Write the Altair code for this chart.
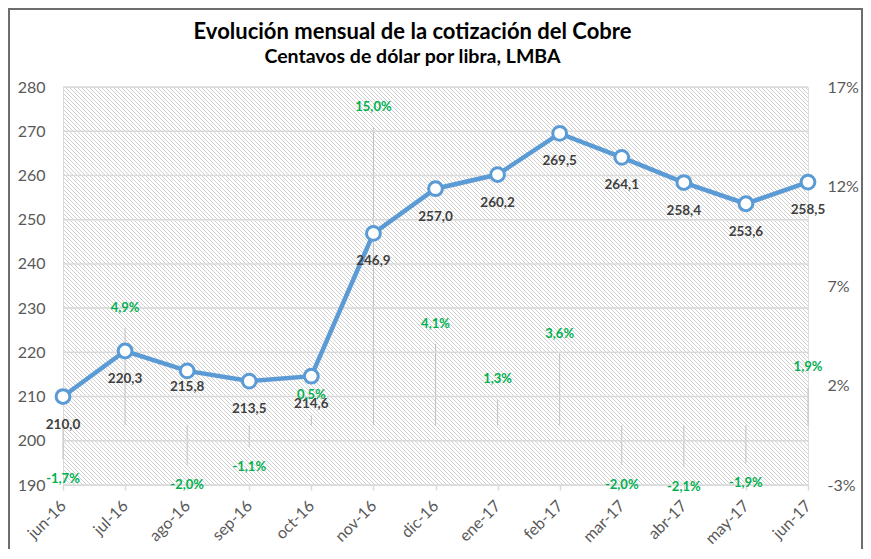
import altair as alt
import pandas as pd

# ---- data ----
meses = ["jun-16", "jul-16", "ago-16", "sep-16", "oct-16", "nov-16", "dic-16",
         "ene-17", "feb-17", "mar-17", "abr-17", "may-17", "jun-17"]
precio = [210.0, 220.3, 215.8, 213.5, 214.6, 246.9, 257.0, 260.2, 269.5, 264.1, 258.4, 253.6, 258.5]
variacion = [-1.7, 4.9, -2.0, -1.1, 0.5, 15.0, 4.1, 1.3, 3.6, -2.0, -2.1, -1.9, 1.9]
ticks_izq = [190, 200, 210, 220, 230, 240, 250, 260, 270, 280]
ticks_der = [-3, 2, 7, 12, 17]

df = pd.DataFrame({"mes": meses, "precio": precio, "var": variacion})
df["precio_txt"] = [f"{v:.1f}".replace(".", ",") for v in precio]
df["var_txt"] = [f"{v:.1f}".replace(".", ",") + "%" for v in variacion]
grid_df = pd.DataFrame({"precio": ticks_izq})

W, H = 745, 398
FONT = "Lato"
GRAY = "#595959"
BLUE = "#5B9BD5"
GREEN = "#00B050"
GRID = "#D9D9D9"

xenc = alt.X(
    "mes:N",
    scale=alt.Scale(type="point", domain=meses, padding=0),
    axis=alt.Axis(title=None, labelAngle=-45, labelAlign="right", labelBaseline="middle",
                  labelFont=FONT, labelFontSize=16, labelColor=GRAY, labelPadding=13,
                  domain=False, ticks=True, tickSize=5, tickColor=GRID, tickWidth=1.5,
                  grid=False),
)

yL = alt.Y(
    "precio:Q",
    scale=alt.Scale(domain=[190, 280], nice=False, zero=False),
    axis=alt.Axis(orient="left", values=ticks_izq, title=None, grid=False, domain=False,
                  ticks=False, labelFont=FONT, labelFontSize=16, labelColor=GRAY,
                  labelPadding=18),
)

yR = alt.Y(
    "var:Q",
    scale=alt.Scale(domain=[-3, 17], nice=False, zero=False),
    axis=alt.Axis(orient="right", values=ticks_der, title=None, grid=False, domain=False,
                  ticks=False, labelFont=FONT, labelFontSize=16, labelColor=GRAY,
                  labelPadding=19, labelExpr="datum.value + '%'"),
)
yR_noaxis = alt.Y("var:Q", scale=alt.Scale(domain=[-3, 17], nice=False, zero=False), axis=None)

# hatched plot background (decorative)
hatch = (
    alt.Chart(alt.sequence(0, 287, as_="k"))
    .transform_calculate(hx=f"datum.k*4 - {H}", hx2="datum.k*4")
    .mark_rule(color="#D0D0D0", strokeWidth=1, clip=True)
    .encode(x=alt.X("hx:Q", scale=None, axis=None), x2="hx2:Q",
            y=alt.value(0), y2=alt.value(H))
)

base = alt.Chart(df)

# secondary-axis drop lines (monthly % change)
drops = base.mark_rule(color="#BFBFBF", strokeWidth=1).encode(x=xenc, y=yR, y2=alt.datum(0))

gridlines = (
    alt.Chart(grid_df)
    .mark_rule(color=GRID, strokeWidth=1.5)
    .encode(y=yL, x=alt.value(0), x2=alt.value(W))
)
line = base.mark_line(color=BLUE, strokeWidth=4.5).encode(x=xenc, y=yL)
points = base.mark_point(shape="circle", filled=True, fill="white", stroke=BLUE,
                         strokeWidth=3, size=190, opacity=1).encode(x=xenc, y=yL)
lab_precio = (
    base.transform_filter("datum.mes != 'ago-16'")
    .mark_text(font=FONT, fontSize=13.5, fontWeight="bold", color="#404040", dy=28)
    .encode(x=xenc, y=yL, text="precio_txt:N")
)
lab_precio2 = (
    base.transform_filter("datum.mes == 'ago-16'")
    .mark_text(font=FONT, fontSize=13.5, fontWeight="bold", color="#404040", dy=16)
    .encode(x=xenc, y=yL, text="precio_txt:N")
)
left = alt.layer(gridlines, line, points, lab_precio, lab_precio2)

lab_pos = (
    base.transform_filter("datum.var >= 0")
    .mark_text(font=FONT, fontSize=13, fontWeight="bold", color=GREEN, dy=-20)
    .encode(x=xenc, y=yR_noaxis, text="var_txt:N")
)
lab_neg = (
    base.transform_filter("datum.var < 0")
    .mark_text(font=FONT, fontSize=13, fontWeight="bold", color=GREEN, dy=20)
    .encode(x=xenc, y=yR_noaxis, text="var_txt:N")
)
pct_labels = alt.layer(lab_pos, lab_neg)

frame = (
    alt.Chart(pd.DataFrame({"a": [0]}))
    .mark_rect(fill="white", fillOpacity=0, stroke="#6D6D6D", strokeWidth=2)
    .encode(x=alt.value(-54), x2=alt.value(799), y=alt.value(-78), y2=alt.value(600))
)

chart = (
    alt.layer(hatch, drops, left, pct_labels, frame)
    .resolve_scale(y="independent")
    .properties(
        width=W, height=H,
        autosize=alt.AutoSizeParams(type="none"),
        padding={"left": 55, "top": 79, "right": 55, "bottom": 64},
        title=alt.TitleParams(
            text="Evolución mensual de la cotización del Cobre",
            subtitle="Centavos de dólar por libra, LMBA",
            font=FONT, fontSize=22, fontWeight="bold", color="black",
            subtitleFont=FONT, subtitleFontSize=19.5, subtitleFontWeight="bold",
            subtitleColor="black", subtitlePadding=4,
            anchor="middle", frame="group", dx=-23, offset=0, dy=59,
        ),
    )
    .configure_view(strokeWidth=0)
    .configure(background="white")
)

chart.save("out.html", embed_options={"renderer": "svg", "actions": False})
